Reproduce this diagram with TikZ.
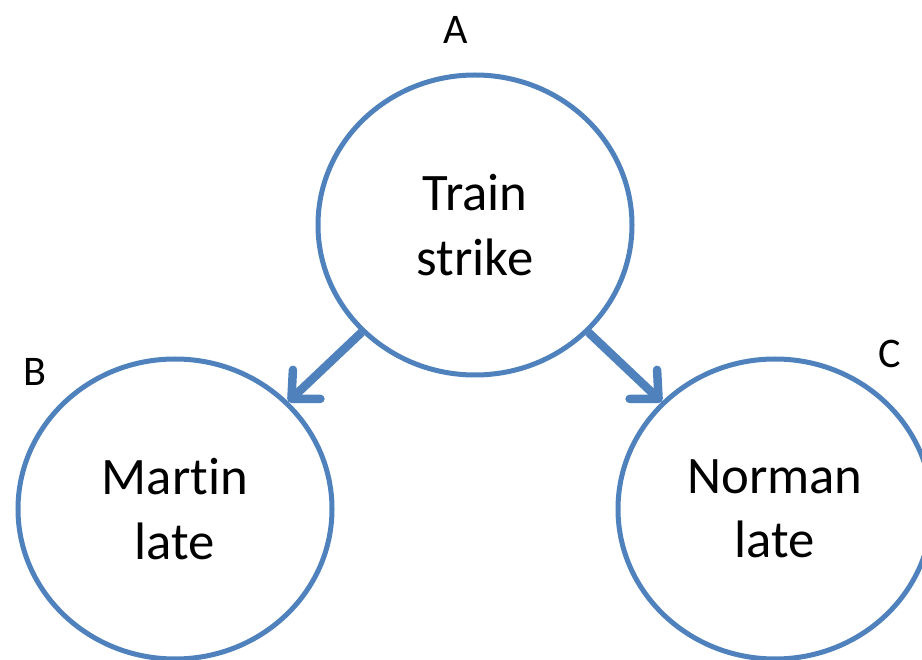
\documentclass[tikz,border=0pt]{standalone}
\usepackage{fontspec}
\setmainfont[Ligatures={NoCommon}]{Carlito}
\usepackage{tikz}
\usetikzlibrary{positioning, arrows.meta, shapes.geometric}

\definecolor{eventblue}{HTML}{4F81BD}

\begin{document}
\begin{tikzpicture}[>={Straight Barb[length=0.42cm, width=0.8cm, round]}, on grid,
    event/.style={ellipse, draw=eventblue, line width=0.1cm, minimum width=6.28cm, minimum height=6.0cm, inner sep=0pt, align=center, font=\fontsize{30}{36.5}\selectfont},
    letter/.style={font=\fontsize{24}{28}\selectfont}]
  \useasboundingbox (0,0) rectangle (18.44,-13.2);
  \node[event] (strike) at (9.5,-4.5) {Train\\strike};
  \node[event] (martin) [below left=5.68cm and 6cm of strike] {Martin\\late};
  \node[event] (norman) [below right=5.68cm and 6cm of strike] {Norman\\late};

  \node[letter] (labA) [above left=3.9cm and 0.38cm of strike] {A};
  \node[letter] (labB) [above left=2.74cm and 2.8cm of martin] {B};
  \node[letter] (labC) [above right=3.1cm and 2.3cm of norman] {C};

  \path[->, draw=eventblue, line width=0.17cm]
    (strike) edge (martin)
    (strike) edge (norman);
\end{tikzpicture}
\end{document}
